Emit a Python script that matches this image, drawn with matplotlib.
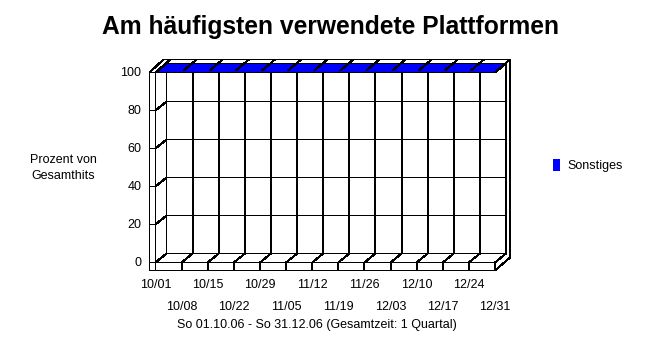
import matplotlib
matplotlib.use('Agg')
import matplotlib.pyplot as plt
from matplotlib.transforms import IdentityTransform
from matplotlib.patches import Polygon, Rectangle

# ---- data ----
tick_labels = ['10/01', '10/08', '10/15', '10/22', '10/29', '11/05', '11/12',
               '11/19', '11/26', '12/03', '12/10', '12/17', '12/24', '12/31']
tick_days = [0, 7, 14, 21, 28, 35, 42, 49, 56, 63, 70, 77, 84, 91]
sonstiges = [100, 100, 100, 100, 100, 100, 100, 100, 100, 100, 100, 100, 100, 100]
y_ticks = [0, 20, 40, 60, 80, 100]
series_name = 'Sonstiges'
title = 'Am häufigsten verwendete Plattformen'
y_label = 'Prozent von\nGesamthits'
subtitle = 'So 01.10.06 - So 31.12.06 (Gesamtzeit: 1 Quartal)'

W, H = 666, 343
FONT = 'Liberation Sans'
plt.rcParams['font.family'] = [FONT, 'DejaVu Sans']

fig = plt.figure(figsize=(W / 100, H / 100), dpi=100)
fig.patch.set_facecolor('white')
ax = fig.add_axes([155.5 / W, 80.5 / H, 339.5 / W, 190 / H])
ax.set_xlim(tick_days[0], tick_days[-1])
ax.set_ylim(0, 100)
ax.axis('off')

DX, DY = 11, 9      # depth offset (pixels)
SLAB = 6            # left wall thickness
FLOOR = 8           # floor thickness
OUT = 4             # back-wall thickness
x0, x1 = tick_days[0], tick_days[-1]
ID = IdentityTransform()
LW = 0.72


def P(d, v, dx=0, dy=0):
    x, y = ax.transData.transform((d, v))
    return x + dx, y + dy


def seg(*pts, lw=LW, color='black', z=3):
    xs = [p[0] for p in pts]
    ys = [p[1] for p in pts]
    ax.plot(xs, ys, transform=ID, clip_on=False, color=color, lw=lw,
            antialiased=False, solid_capstyle='butt', snap=False, zorder=z)


# back wall grid
for v in y_ticks:
    seg(P(x0, v, DX, DY), P(x1, v, DX, DY))
    seg(P(x0, v), P(x0, v, DX, DY))          # left wall diagonals
    seg(P(x0, v, -SLAB, 0), P(x0, v))        # ticks on left slab
for d in tick_days:
    seg(P(d, 0, DX, DY), P(d, 100, DX, DY))  # back verticals
    seg(P(d, 0), P(d, 0, DX, DY))            # floor diagonals
    seg(P(d, 0), P(d, 0, 0, -FLOOR))         # floor front ticks

# frame
seg(P(x0, 0), P(x0, 100))
seg(P(x0, 0), P(x1, 0))
seg(P(x1, 0), P(x1, 0, 0, -FLOOR))
seg(P(x0, 0, -SLAB, -FLOOR), P(x0, 100, -SLAB, 0),
    P(x0, 100, DX - 3, DY + OUT), P(x1, 100, DX + OUT, DY + OUT),
    P(x1, 0, DX + OUT, DY - OUT), P(x1, 0, 0, -FLOOR),
    P(x0, 0, -SLAB, -FLOOR))

# series (3D ribbon on top)
front = [P(d, v) for d, v in zip(tick_days, sonstiges)]
back = [P(d, v, DX, DY) for d, v in zip(tick_days, sonstiges)]
poly = Polygon(front + back[::-1], closed=True, transform=ID,
               facecolor='#0000ff', edgecolor='black', lw=LW,
               antialiased=False, clip_on=False, zorder=5)
ax.add_patch(poly)
for d, v in zip(tick_days, sonstiges):
    seg(P(d, v, 2, 2), P(d, v, DX + OUT, DY + OUT), z=6)

# y tick labels
for v in y_ticks:
    ax.annotate(str(v), xy=(x0, v), xytext=(-14, 0), textcoords='offset pixels',
                ha='right', va='center', fontsize=9, annotation_clip=False)

# x tick labels (two rows)
for i, (d, lab) in enumerate(zip(tick_days, tick_labels)):
    off = -22 if i % 2 == 0 else -45
    ax.annotate(lab, xy=(d, 0), xytext=(0, off), textcoords='offset pixels',
                ha='center', va='center', fontsize=9, annotation_clip=False)

# texts
fig.text(330 / W, 1 - 27 / H, title, ha='center', va='center',
         fontsize=17.7, fontweight='bold')
fig.text(63 / W, 1 - 168 / H, y_label, ha='center', va='center',
         fontsize=9, linespacing=1.5)
fig.text(317 / W, 1 - 325 / H, subtitle, ha='center', va='center', fontsize=9)

# legend
fig.patches.append(Rectangle((553 / W, 1 - 171 / H), 7 / W, 12 / H,
                             transform=fig.transFigure, facecolor='#0000ff',
                             edgecolor='none', figure=fig))
fig.text(567 / W, 1 - 165.5 / H, series_name, ha='left', va='center', fontsize=9)

fig.savefig('out.png', dpi=100)
